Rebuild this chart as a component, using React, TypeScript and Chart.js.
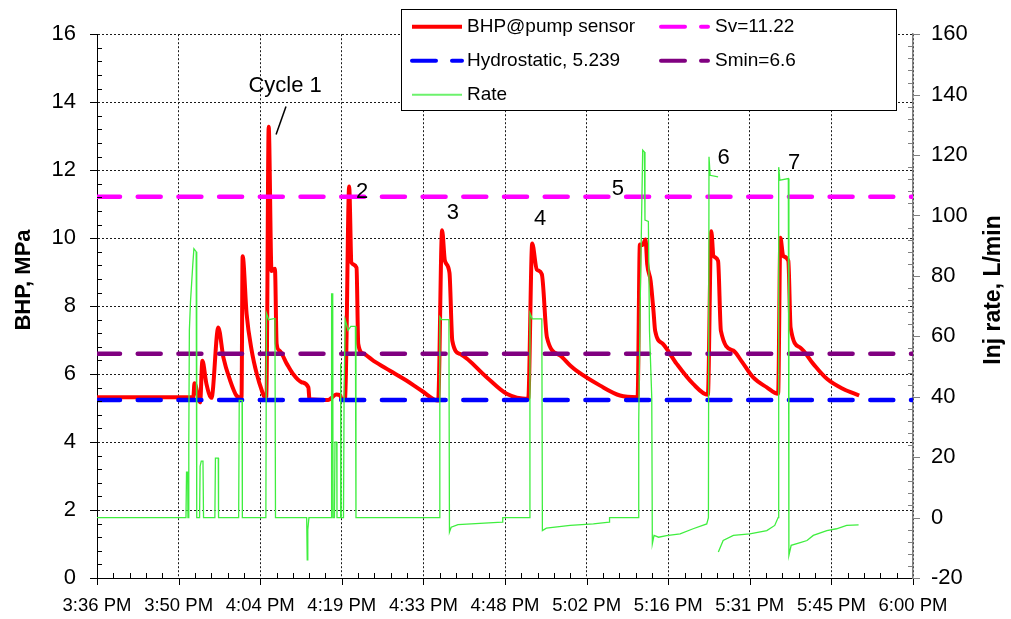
import React, { useEffect, useRef } from "react";
import { Chart, registerables } from "chart.js";

Chart.register(...registerables);

// ---------- data ----------
const xTickLabels = ["3:36 PM", "3:50 PM", "4:04 PM", "4:19 PM", "4:33 PM", "4:48 PM", "5:02 PM", "5:16 PM", "5:31 PM", "5:45 PM", "6:00 PM"];
const X_MAX_MIN = 144; // minutes after 3:36 PM shown on the axis
const X_TICK_STEP = 14.4;

// BHP@pump sensor (MPa), time in minutes after 3:36 PM
const bhpMinutes = [0, 17.0, 17.2, 18.2, 18.6, 19.3, 20.2, 21.4, 22.3, 23.5, 24.6, 25.5, 25.7, 26.4, 27.3, 28.2, 29.1, 29.6, 29.9, 30.3, 30.8, 31.4, 31.7, 32.2, 33.5, 34.6, 36.1, 37.3, 37.5, 40.8, 41.4, 42.2, 42.9, 43.2, 43.8, 44.5, 44.9, 45.8, 46.1, 47.0, 48.8, 51.7, 54.6, 57.3, 60.2, 60.9, 61.4, 62.2, 62.7, 64.1, 68.8, 72.3, 76.1, 76.8, 77.6, 78.5, 79.4, 81.7, 83.5, 84.6, 88.8, 92.3, 95.4, 95.8, 96.3, 96.8, 97.1, 97.7, 98.2, 98.5, 99.9, 102.3, 105.2, 107.8, 108.4, 108.8, 109.6, 110.1, 112.3, 113.7, 115.8, 118.2, 120.2, 120.6, 121.1, 122.0, 122.4, 124.1, 126.4, 128.8, 131.7, 134.5];
const bhpMPa = [5.32, 5.32, 5.73, 5.17, 6.39, 5.72, 5.3, 7.37, 6.49, 5.81, 5.37, 5.3, 9.47, 7.77, 6.69, 6.0, 5.51, 5.32, 5.35, 13.28, 9.03, 9.1, 6.89, 6.69, 6.3, 6.0, 5.76, 5.61, 5.26, 5.24, 5.3, 5.4, 5.38, 5.24, 5.3, 11.52, 9.28, 9.13, 6.89, 6.6, 6.39, 6.1, 5.81, 5.51, 5.22, 10.23, 9.33, 8.98, 6.98, 6.59, 5.9, 5.42, 5.27, 9.84, 9.08, 8.94, 7.08, 6.55, 6.25, 6.1, 5.66, 5.37, 5.32, 9.81, 9.8, 9.96, 9.23, 8.74, 7.86, 7.27, 6.88, 6.3, 5.71, 5.39, 10.2, 9.47, 9.33, 7.27, 6.69, 6.39, 5.9, 5.61, 5.42, 10.01, 9.47, 9.33, 7.37, 6.78, 6.3, 5.86, 5.56, 5.37];

// Injection rate (L/min)
const rateMinutes = [0, 15.7, 15.8, 16.0, 16.05, 16.15, 16.2, 16.3, 16.5, 16.9, 17.1, 17.5, 17.6, 18.1, 18.2, 18.4, 18.7, 18.8, 20.8, 20.9, 21.4, 21.45, 25.0, 25.1, 25.6, 25.65, 29.8, 29.9, 30.3, 31.4, 31.5, 37.0, 37.1, 37.2, 37.4, 41.3, 41.4, 41.6, 41.65, 41.9, 42.0, 42.3, 42.35, 42.9, 43.0, 43.1, 43.5, 43.6, 43.8, 44.3, 44.8, 45.6, 45.7, 60.4, 60.5, 60.8, 62.1, 62.2, 62.5, 63.7, 71.5, 71.6, 76.3, 76.4, 76.8, 78.5, 78.6, 79.3, 83.5, 87.6, 90.4, 90.45, 95.5, 95.6, 95.9, 96.3, 96.6, 96.7, 97.3, 97.5, 97.9, 98.0, 98.3, 99.1, 100.5, 102.9, 105.2, 107.6, 107.9, 108.0, 108.2, 109.6, 109.62, 109.65, 110.5, 112.3, 115.2, 118.2, 119.6, 120.2, 120.3, 120.5, 122.0, 122.1, 122.5, 124.1, 125.3, 126.4, 128.8, 130.5, 132.3, 134.4];
const rateLpm: (number | null)[] = [0, 0, 15, 15, 0, 0, 25, 62, 71.5, 83.6, 89, 88, 0, 0, 17, 18.7, 18.7, 0, 0, 19.7, 19.7, 0, 0, 38.8, 38.8, 0, 0, 67.7, 65.5, 65.9, 0, 0, -14, -4, 0, 0, 74, 74, 0, 0, 25, 25, 0, 0, 51, 0, 0, 40, 65.5, 62, 63.3, 63.3, 0, 0, 66.4, 65.5, 65.5, -4.8, -3.2, -2.3, -1.5, 0, 0, 67.7, 65.8, 65.8, -4.3, -3.5, -2.6, -2.1, -1.5, 0, 0, 32, 76, 121.6, 121, 98.5, 98, 61.7, 39.7, -8.7, -5.9, -6.5, -6.0, -5.4, -3.7, -2.1, 0, 119.4, 113.3, 112.8, null, -11.4, -7.6, -5.9, -5.4, -4.3, -2.6, 0, 116, 111.7, 112.2, -12.5, -9.2, -8.3, -7.6, -5.9, -4.3, -3.7, -2.6, -2.4];

const svLevel = 11.22;
const sminLevel = 6.6;
const hydroLevel = 5.239;

const cycleLabels = ["Cycle 1", "2", "3", "4", "5", "6", "7"];
const cycleLabelMinutes = [33.2, 46.8, 62.8, 78.2, 91.9, 110.6, 123.0];
const cycleLabelMPa = [14.49, 11.35, 10.73, 10.56, 11.44, 12.35, 12.2];
// leader line for "Cycle 1"
const leaderMinutes = [33.35, 31.6];
const leaderMPa = [13.87, 13.05];

const FONT = "'Liberation Sans', Arial, Helvetica, sans-serif";

const legendEntries = [
  { label: "BHP@pump sensor", color: "#ff0000", width: 4, dash: [] as number[], col: 0, row: 0 },
  { label: "Sv=11.22", color: "#ff00ff", width: 4, dash: [24, 16], col: 1, row: 0 },
  { label: "Hydrostatic, 5.239", color: "#0000ff", width: 4, dash: [24, 16], col: 0, row: 1 },
  { label: "Smin=6.6", color: "#800080", width: 4, dash: [24, 16], col: 1, row: 1 },
  { label: "Rate", color: "#6cf26c", width: 2, dash: [] as number[], col: 0, row: 2 },
];

const overlayPlugin = {
  id: "overlay",
  afterDraw(chart: any) {
    const ctx: CanvasRenderingContext2D = chart.ctx;
    const { left, right, bottom } = chart.chartArea;
    const xs = chart.scales.x;
    const ys = chart.scales.y;
    const y1s = chart.scales.y1;
    ctx.save();

    // tick marks (major outward, minor inward)
    ctx.lineWidth = 1;
    ctx.strokeStyle = "#000";
    for (let i = 0; i <= 50; i++) {
      const px = Math.round(xs.getPixelForValue(i * (X_TICK_STEP / 5))) + 0.5;
      ctx.beginPath();
      if (i % 5 === 0) { ctx.moveTo(px, bottom); ctx.lineTo(px, bottom + 7); }
      else { ctx.moveTo(px, bottom); ctx.lineTo(px, bottom - 5); }
      ctx.stroke();
    }
    for (let i = 0; i <= 40; i++) {
      const py = Math.round(ys.getPixelForValue(i * 0.4)) + 0.5;
      ctx.beginPath();
      if (i % 5 === 0) { ctx.moveTo(left - 7, py); ctx.lineTo(left, py); }
      else { ctx.moveTo(left, py); ctx.lineTo(left + 5, py); }
      ctx.stroke();
    }
    ctx.strokeStyle = "#808080";
    for (let i = 0; i <= 45; i++) {
      const py = Math.round(y1s.getPixelForValue(-20 + i * 4)) + 0.5;
      ctx.beginPath();
      if (i % 5 === 0) { ctx.moveTo(right, py); ctx.lineTo(right + 7, py); }
      else { ctx.moveTo(right - 5, py); ctx.lineTo(right, py); }
      ctx.stroke();
    }

    // axis titles
    ctx.fillStyle = "#000";
    ctx.textAlign = "center";
    ctx.textBaseline = "middle";
    ctx.save();
    ctx.translate(24, 280);
    ctx.rotate(-Math.PI / 2);
    ctx.font = `bold 22px ${FONT}`;
    ctx.fillText("BHP, MPa", 0, 0);
    ctx.restore();
    ctx.save();
    ctx.translate(994, 290);
    ctx.rotate(-Math.PI / 2);
    ctx.font = `bold 23px ${FONT}`;
    ctx.fillText("Inj rate, L/min", 0, 0);
    ctx.restore();

    // cycle annotations
    ctx.font = `22px ${FONT}`;
    ctx.fillStyle = "#000";
    cycleLabels.forEach((t, i) => {
      ctx.fillText(t, xs.getPixelForValue(cycleLabelMinutes[i]), ys.getPixelForValue(cycleLabelMPa[i]));
    });
    ctx.lineWidth = 1.5;
    ctx.strokeStyle = "#000";
    ctx.beginPath();
    ctx.moveTo(xs.getPixelForValue(leaderMinutes[0]), ys.getPixelForValue(leaderMPa[0]));
    ctx.lineTo(xs.getPixelForValue(leaderMinutes[1]), ys.getPixelForValue(leaderMPa[1]));
    ctx.stroke();

    // legend box
    const bx = 401.5, by = 9.5, bw = 495, bh = 101;
    ctx.fillStyle = "#fff";
    ctx.fillRect(bx, by, bw, bh);
    ctx.lineWidth = 1;
    ctx.strokeStyle = "#000";
    ctx.strokeRect(bx, by, bw, bh);
    const rowY = [26.7, 60.8, 94.8];
    const colLine = [[412, 462], [661, 708]];
    const colText = [467, 715];
    ctx.font = `19px ${FONT}`;
    ctx.textAlign = "left";
    legendEntries.forEach((e) => {
      const yy = rowY[e.row];
      ctx.save();
      ctx.strokeStyle = e.color;
      ctx.lineWidth = e.width;
      ctx.lineCap = e.dash.length ? "round" : "butt";
      ctx.setLineDash(e.dash);
      ctx.beginPath();
      ctx.moveTo(colLine[e.col][0], yy);
      ctx.lineTo(colLine[e.col][1], yy);
      ctx.stroke();
      ctx.restore();
      ctx.fillStyle = "#000";
      ctx.fillText(e.label, colText[e.col], yy);
    });
    ctx.restore();
  },
};

export default function App() {
  const ref = useRef<HTMLCanvasElement | null>(null);

  useEffect(() => {
    if (!ref.current) return;
    Chart.defaults.font.family = FONT;
    Chart.defaults.color = "#000";

    const bhpPoints = bhpMinutes.map((x, i) => ({ x, y: bhpMPa[i] }));
    const ratePoints = rateMinutes.map((x, i) => ({ x, y: rateLpm[i] }));
    const level = (v: number) => [{ x: 0, y: v }, { x: X_MAX_MIN, y: v }];
    const dashed = { borderWidth: 4.5, borderDash: [23, 17.7], borderCapStyle: "round" as const, pointRadius: 0, yAxisID: "y", fill: false };

    const chart = new Chart(ref.current, {
      type: "line",
      data: {
        datasets: [
          { label: "Rate", data: ratePoints as any, borderColor: "#3fee3f", borderWidth: 1.3, pointRadius: 0, yAxisID: "y1", spanGaps: false, order: 0, fill: false },
          { label: "Sv=11.22", data: level(svLevel), borderColor: "#ff00ff", order: 1, ...dashed },
          { label: "Smin=6.6", data: level(sminLevel), borderColor: "#800080", order: 2, ...dashed },
          { label: "Hydrostatic, 5.239", data: level(hydroLevel), borderColor: "#0000ff", order: 3, ...dashed },
          { label: "BHP@pump sensor", data: bhpPoints, borderColor: "#ff0000", borderWidth: 4, borderJoinStyle: "round", cubicInterpolationMode: "monotone", pointRadius: 0, yAxisID: "y", order: 4, fill: false },
        ],
      },
      options: {
        responsive: false,
        animation: false,
        devicePixelRatio: 1,
        layout: { padding: { top: 32, left: 0, right: 0, bottom: 0 } },
        plugins: { legend: { display: false }, tooltip: { enabled: false }, title: { display: false } },
        elements: { line: { tension: 0 } },
        scales: {
          x: {
            type: "linear",
            min: 0,
            max: X_MAX_MIN,
            afterBuildTicks: (s: any) => { s.ticks = xTickLabels.map((_, i) => ({ value: i * X_TICK_STEP })); },
            afterFit: (s: any) => { s.height = 41; },
            ticks: { callback: (_v: any, i: number) => xTickLabels[i], font: { size: 18.5 }, color: "#000", padding: 17, maxRotation: 0, autoSkip: false },
            grid: { color: "#1a1a1a", lineWidth: 1, drawTicks: false },
            border: { display: true, color: "#000", width: 1, dash: [2, 2] },
          },
          y: {
            position: "left",
            min: 0,
            max: 16,
            afterFit: (s: any) => { s.width = 97; },
            ticks: { stepSize: 2, font: { size: 22 }, color: "#000", padding: 21 },
            grid: { color: "#1a1a1a", lineWidth: 1, drawTicks: false },
            border: { display: true, color: "#000", width: 1, dash: [2, 2] },
          },
          y1: {
            position: "right",
            min: -20,
            max: 160,
            afterFit: (s: any) => { s.width = 98; },
            ticks: { stepSize: 20, font: { size: 22 }, color: "#000", padding: 18 },
            grid: { display: false, drawTicks: false },
            border: { display: true, color: "#808080", width: 1.5 },
          },
        },
      },
      plugins: [overlayPlugin],
    } as any);
    return () => chart.destroy();
  }, []);

  return (
    <div style={{ position: "fixed", left: 0, top: 0, width: 1011, height: 619, background: "#fff" }}>
      <canvas ref={ref} width={1011} height={619} style={{ width: 1011, height: 619, display: "block" }} />
    </div>
  );
}
